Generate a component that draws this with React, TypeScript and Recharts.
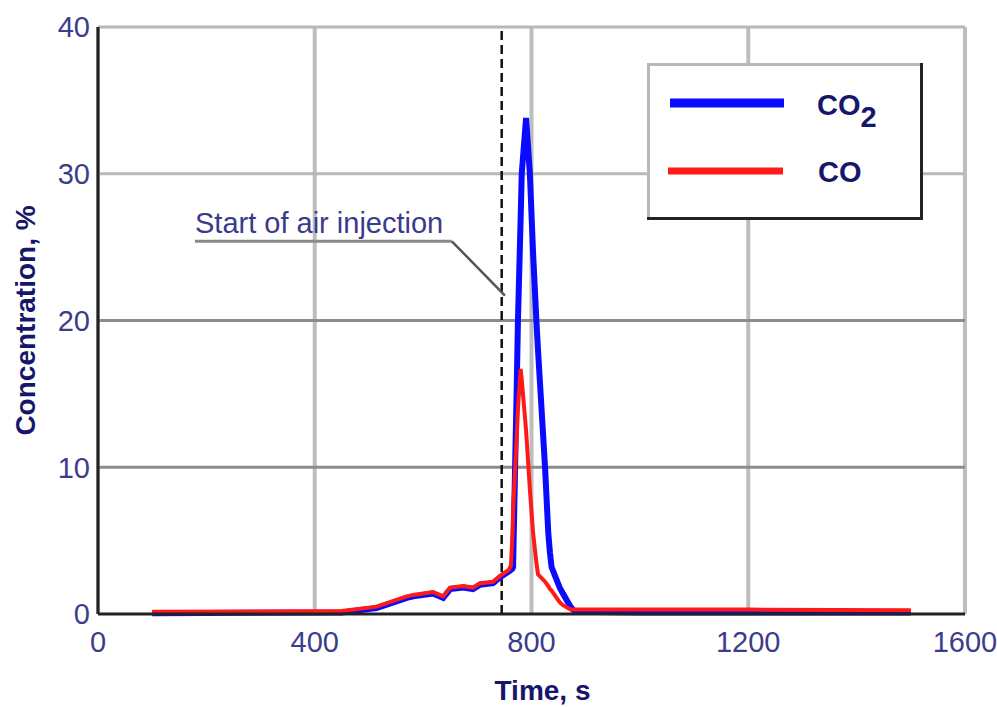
import React from 'react';
import { LineChart, Line, XAxis, YAxis, CartesianGrid, ReferenceLine, Legend } from 'recharts';

const times = [100, 450, 514, 570, 582, 618, 637, 650, 674, 692, 705, 729, 742, 758, 762, 765, 766, 773, 775, 780, 782, 790, 797, 803, 809, 812, 825, 831, 834, 837, 852, 858, 872, 880, 1000, 1200, 1500];
const co2Values = [0.05, 0.1, 0.4, 1.1, 1.2, 1.4, 1.1, 1.7, 1.8, 1.7, 2.0, 2.1, 2.5, 2.9, 3.0, 3.1, 3.2, 16, 20, 27, 30, 33.8, 30, 24.5, 20, 18, 10, 5.5, 4.2, 3.2, 1.8, 1.4, 0.5, 0.15, 0.1, 0.1, 0.1];
const coValues = [0.15, 0.2, 0.5, 1.2, 1.3, 1.5, 1.2, 1.8, 1.9, 1.8, 2.1, 2.2, 2.6, 3.0, 3.3, 5.5, 7, 12.3, 14, 16.7, 16, 12.5, 8.5, 5.5, 3.5, 2.7, 2.2, 1.9, 1.7, 1.6, 0.8, 0.6, 0.3, 0.3, 0.3, 0.3, 0.25];

const xTicks = [0, 400, 800, 1200, 1600];
const yTicks = [0, 10, 20, 30, 40];
const airInjectionTime = 745;

const data = times.map((t, i) => ({ t, co2: co2Values[i], co: coValues[i] }));

const tickStyle = { fill: '#3c3c8c', fontSize: 29, fontFamily: 'Liberation Sans, Arial, sans-serif' };
const titleColor = '#16166a';

const LegendBox = () => (
  <svg width={276} height={157} style={{ display: 'block' }}>
    <rect x={0} y={0} width={276} height={157} fill="#fff" />
    <line x1={1.5} y1={0} x2={1.5} y2={157} stroke="#b8b8b8" strokeWidth={3} />
    <line x1={0} y1={1.5} x2={276} y2={1.5} stroke="#b8b8b8" strokeWidth={3} />
    <line x1={274.5} y1={0} x2={274.5} y2={157} stroke="#222" strokeWidth={3} />
    <line x1={0} y1={155.5} x2={276} y2={155.5} stroke="#222" strokeWidth={3} />
    <line x1={23} y1={40} x2={137} y2={40} stroke="#0a0aff" strokeWidth={9} />
    <line x1={21} y1={108} x2={136} y2={108} stroke="#ff1a1a" strokeWidth={7} />
    <text x={170} y={52} fill={titleColor} fontSize={29} fontWeight="bold" fontFamily="Liberation Sans, Arial, sans-serif">
      CO<tspan dy={12}>2</tspan>
    </text>
    <text x={171} y={119} fill={titleColor} fontSize={29} fontWeight="bold" fontFamily="Liberation Sans, Arial, sans-serif">
      CO
    </text>
  </svg>
);

const YTitle = (props: any) => {
  const { viewBox } = props;
  const cx = viewBox.x + 25;
  const cy = viewBox.y + viewBox.height / 2;
  return (
    <text x={cx} y={cy} transform={`rotate(-90, ${cx}, ${cy})`} textAnchor="middle" dominantBaseline="central"
      fill={titleColor} fontSize={28} fontWeight="bold" fontFamily="Liberation Sans, Arial, sans-serif">
      Concentration, %
    </text>
  );
};

const XTitle = (props: any) => {
  const { viewBox } = props;
  return (
    <text x={viewBox.x + viewBox.width / 2 + 11} y={700} textAnchor="middle"
      fill={titleColor} fontSize={28} fontWeight="bold" fontFamily="Liberation Sans, Arial, sans-serif">
      Time, s
    </text>
  );
};

const Callout = (props: any) => {
  const { viewBox } = props;
  return (
    <text x={viewBox.x} y={viewBox.y - 8} fill="#3a3a8c" fontSize={29} fontFamily="Liberation Sans, Arial, sans-serif">
      Start of air injection
    </text>
  );
};

export default function App() {
  return (
    <div style={{ position: 'absolute', left: 0, top: 0, background: '#fff' }}>
      <LineChart width={997} height={707} data={data} margin={{ top: 27, right: 32, bottom: 0, left: 0 }}>
        <CartesianGrid horizontal={false} stroke="#bdbdbd" strokeWidth={4} />
        <CartesianGrid vertical={false} horizontalValues={[30, 40]} stroke="#b8b8b8" strokeWidth={3} />
        <CartesianGrid vertical={false} horizontalValues={[10, 20]} stroke="#8c8c8c" strokeWidth={3} />
        <XAxis dataKey="t" type="number" domain={[0, 1600]} ticks={xTicks} height={93}
          tick={tickStyle} tickLine={false} tickSize={0} tickMargin={17}
          axisLine={{ stroke: '#222', strokeWidth: 3 }} label={<XTitle />} />
        <YAxis type="number" domain={[0, 40]} ticks={yTicks} width={98}
          tick={tickStyle} tickLine={false} tickSize={0} tickMargin={8}
          axisLine={{ stroke: '#222', strokeWidth: 3 }} label={<YTitle />} />
        <ReferenceLine x={airInjectionTime} stroke="#111" strokeWidth={2.5} strokeDasharray="9 5" />
        <ReferenceLine segment={[{ x: 179, y: 25.4 }, { x: 653, y: 25.4 }]} stroke="#8a8a8a" strokeWidth={3} label={<Callout />} />
        <ReferenceLine segment={[{ x: 653, y: 25.4 }, { x: 751, y: 21.7 }]} stroke="#555" strokeWidth={2.5} />
        <Line type="linear" dataKey="co2" stroke="#0a0aff" strokeWidth={6} dot={false} isAnimationActive={false} />
        <Line type="linear" dataKey="co" stroke="#ff1a1a" strokeWidth={4} dot={false} isAnimationActive={false} />
        <Legend layout="vertical" align="center" verticalAlign="middle" content={<LegendBox />}
          wrapperStyle={{ left: 647, top: 63, width: 276, height: 157 }} />
      </LineChart>
    </div>
  );
}
